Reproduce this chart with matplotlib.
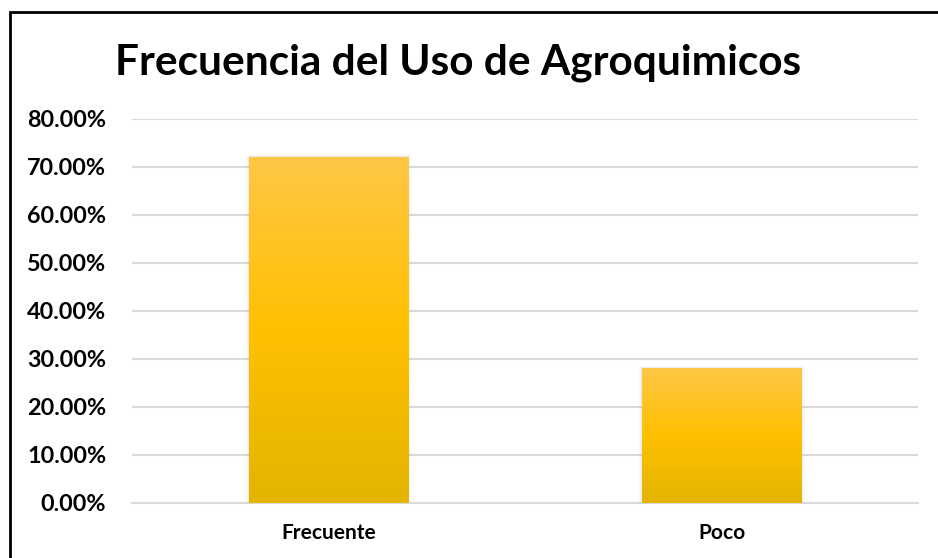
import numpy as np
import matplotlib.pyplot as plt
from matplotlib.colors import LinearSegmentedColormap
from matplotlib.patches import Rectangle
from matplotlib.ticker import FuncFormatter

categorias = ['Frecuente', 'Poco']
porcentajes = [0.72, 0.28]

plt.rcParams['font.family'] = ['Lato', 'DejaVu Sans']

fig = plt.figure(figsize=(9.38, 5.58), dpi=100)
ax = fig.add_axes([132/938, 1 - 502.7/558, (918-132)/938, (502.7-118.6)/558])

x = np.arange(len(categorias))
bars = ax.bar(x, porcentajes, width=0.405, color='none', zorder=3)

# degradado amarillo como en excel
cmap = LinearSegmentedColormap.from_list('oro', ['#E3B400', '#FFC000', '#FFC746'])
grad = np.linspace(0, 1, 256).reshape(-1, 1)
for b in bars:
    x0, y0 = b.get_x(), b.get_y()
    w, h = b.get_width(), b.get_height()
    # sombra suave
    for k, a in enumerate([0.06, 0.04, 0.02]):
        d = 0.003 * (k + 1)
        ax.add_patch(Rectangle((x0 - d, y0), w + 2*d, h + d*0.6, color='#555555',
                               alpha=a, lw=0, zorder=2))
    im = ax.imshow(grad, cmap=cmap, aspect='auto', origin='lower',
                   extent=[x0, x0 + w, y0, y0 + h], zorder=3)
    im.set_clip_path(b)

ax.set_xlim(-0.5, 1.5)
ax.set_ylim(0, 0.8)
ax.set_yticks(np.arange(0, 0.81, 0.1))
ax.yaxis.set_major_formatter(FuncFormatter(lambda v, p: f'{v*100:.2f}%'))
ax.set_xticks(x)
ax.set_xticklabels(categorias)
ax.grid(axis='y', color='#D9D9D9', lw=1.5, zorder=0)
for s in ['top', 'right', 'left']:
    ax.spines[s].set_visible(False)
ax.spines['bottom'].set_color('#D9D9D9')
ax.spines['bottom'].set_linewidth(1.5)
ax.tick_params(length=0)
for t in ax.get_yticklabels():
    t.set_fontsize(16.8)
    t.set_fontweight('bold')
for t in ax.get_xticklabels():
    t.set_fontsize(15)
    t.set_fontweight('bold')
ax.tick_params(axis='y', pad=18.5)
ax.tick_params(axis='x', pad=14.5)

fig.text(458/938, 1 - 63/558, 'Frecuencia del Uso de Agroquimicos',
         ha='center', va='center', fontsize=30.5, fontweight='bold')

# marco del grafico
fig.patches.append(Rectangle((10/938, -0.1), 1.1, 1 - 12/558 + 0.1,
                             transform=fig.transFigure, fill=False,
                             edgecolor='black', lw=2))

fig.savefig('out.png', dpi=100)
